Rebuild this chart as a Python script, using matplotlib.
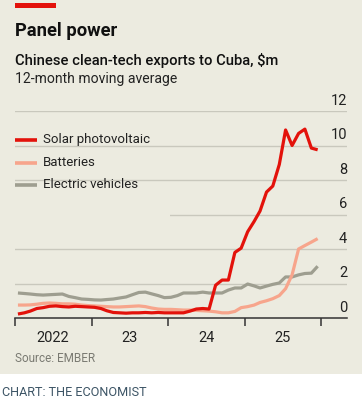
import matplotlib
matplotlib.use("Agg")
import matplotlib.pyplot as plt
import matplotlib.patches as mpatches
import matplotlib.transforms as mtransforms
import matplotlib.lines as mlines
import pandas as pd

plt.rcParams['font.family'] = ['Roboto', 'DejaVu Sans']

# ---- data ----
months = pd.date_range('2022-01-01', '2025-12-01', freq='MS') + pd.Timedelta(days=14)

solar = [0.23, 0.3, 0.4, 0.55, 0.6, 0.68, 0.7, 0.66, 0.64, 0.68, 0.66, 0.64,
         0.62, 0.55, 0.42, 0.32, 0.3, 0.28, 0.3, 0.3, 0.32, 0.3, 0.32, 0.3,
         0.3, 0.3, 0.3, 0.4, 0.52, 0.55, 0.52, 1.9, 2.2, 2.2, 3.8, 4.05,
         5.0, 5.6, 6.2, 7.3, 7.65, 8.9, 10.9, 10.0, 10.7, 10.95, 9.85, 9.75]

batteries = [0.75, 0.75, 0.76, 0.8, 0.85, 0.87, 0.85, 0.82, 0.82, 0.8, 0.75, 0.72,
             0.7, 0.68, 0.66, 0.64, 0.64, 0.66, 0.68, 0.7, 0.66, 0.58, 0.52, 0.5,
             0.5, 0.48, 0.46, 0.46, 0.44, 0.42, 0.4, 0.36, 0.3, 0.3, 0.38, 0.6,
             0.66, 0.75, 0.9, 1.0, 1.12, 1.3, 1.7, 2.5, 4.0, 4.2, 4.4, 4.6]

evs = [1.45, 1.42, 1.39, 1.35, 1.33, 1.35, 1.37, 1.39, 1.25, 1.18, 1.1, 1.08,
       1.05, 1.04, 1.07, 1.1, 1.16, 1.22, 1.35, 1.48, 1.5, 1.4, 1.3, 1.18,
       1.2, 1.3, 1.45, 1.45, 1.45, 1.5, 1.45, 1.45, 1.45, 1.62, 1.74, 1.74,
       1.97, 1.86, 1.74, 1.85, 1.95, 2.03, 2.38, 2.38, 2.5, 2.58, 2.6, 3.0]

series_names = ["Solar photovoltaic", "Batteries", "Electric vehicles"]
year_labels = ["2022", "23", "24", "25"]
y_ticks = [0, 2, 4, 6, 8, 10, 12]

# ---- style ----
BG = '#ECEBE0'
RED = '#E3120B'
SALMON = '#F7A58C'
GREY = '#9E9E90'
GRID = '#C9C8BD'
TXT = '#222222'

W, H = 362, 404
fig = plt.figure(figsize=(W/100, H/100), dpi=100)
fig.patch.set_facecolor('white')

# beige panel
fig.patches.append(mpatches.Rectangle((0, 1 - 374/H), 1, 374/H, transform=fig.transFigure,
                                      facecolor=BG, edgecolor='none', zorder=-10))
# red tag
fig.patches.append(mpatches.Rectangle((15/W, 1 - 8/H), 41/W, 5/H, transform=fig.transFigure,
                                      facecolor=RED, edgecolor='none', zorder=-5))

fig.text(15/W, 1 - 31/H, "Panel power", fontsize=13.2, fontweight='bold', color='#111111', va='center')
fig.text(15/W, 1 - 61/H, "Chinese clean-tech exports to Cuba, $m", fontsize=10.6, fontweight='medium',
         color='#111111', va='center')
fig.text(15/W, 1 - 79/H, "12-month moving average", fontsize=10.1, color='#222222', va='center')

ax = fig.add_axes([15/W, 1 - 318/H, 332/W, 207/H])
ax.set_facecolor('none')
ax.set_zorder(2)

x0 = pd.Timestamp('2022-01-01')
x1 = pd.Timestamp('2026-05-04')
ax.set_xlim(x0, x1)
ax.set_ylim(0, 12)

# grid lines
for v in y_ticks[1:]:
    ax.axhline(v, color=GRID, lw=1.0, zorder=1)

# legend background covering grid
ax.add_patch(mpatches.Rectangle((0, 0.40), 0.467, 0.22, transform=ax.transAxes,
                                facecolor=BG, edgecolor='none', zorder=1.5))

ax.plot(months, evs, color=GREY, lw=2.3, zorder=3, solid_capstyle='butt')
ax.plot(months, batteries, color=SALMON, lw=2.3, zorder=3.1, solid_capstyle='butt')
ax.plot(months, solar, color=RED, lw=2.3, zorder=3.2, solid_capstyle='butt')

# y labels on right, above grid lines
trans = mtransforms.blended_transform_factory(ax.transAxes, ax.transData)
for v in y_ticks:
    ax.text(1.0, v + 0.2, str(v), transform=trans, ha='right', va='bottom', fontsize=10.5,
            color=TXT, zorder=5)

# legend
legend_colors = [RED, SALMON, GREY]
legend_y = [140, 162.5, 185]
for name, c, yy in zip(series_names, legend_colors, legend_y):
    yf = 1 - yy/H
    fig.lines.append(mlines.Line2D([15/W, 37/W], [yf, yf], transform=fig.transFigure,
                                   color=c, lw=2.6, solid_capstyle='butt', zorder=6))
    fig.text(43/W, yf, name, fontsize=9.5, color=TXT, va='center', zorder=6)

# axes styling
for s in ['top', 'right', 'left']:
    ax.spines[s].set_visible(False)
ax.spines['bottom'].set_color('#333333')
ax.spines['bottom'].set_linewidth(1.1)
ax.spines['bottom'].set_zorder(4)
ax.set_yticks([])

major = [pd.Timestamp(f'{y}-01-01') for y in range(2022, 2027)]
minor = [pd.Timestamp(f'{y}-07-02') for y in range(2022, 2026)]
ax.set_xticks(major)
ax.set_xticklabels([''] * len(major))
ax.set_xticks(minor, minor=True)
ax.set_xticklabels(year_labels, minor=True)
ax.tick_params(axis='x', which='major', length=6, width=1.1, color='#333333', direction='out')
ax.tick_params(axis='x', which='minor', length=0, pad=9, labelsize=10.5, labelcolor=TXT)

fig.text(15/W, 1 - 358/H, "Source: EMBER", fontsize=8.5, color='#7A7A72', va='center')
fig.text(2/W, 1 - 392/H, "CHART: THE ECONOMIST", fontsize=9.1, color='#3D5566', va='center')

fig.savefig('out.png', dpi=100, facecolor='white')
